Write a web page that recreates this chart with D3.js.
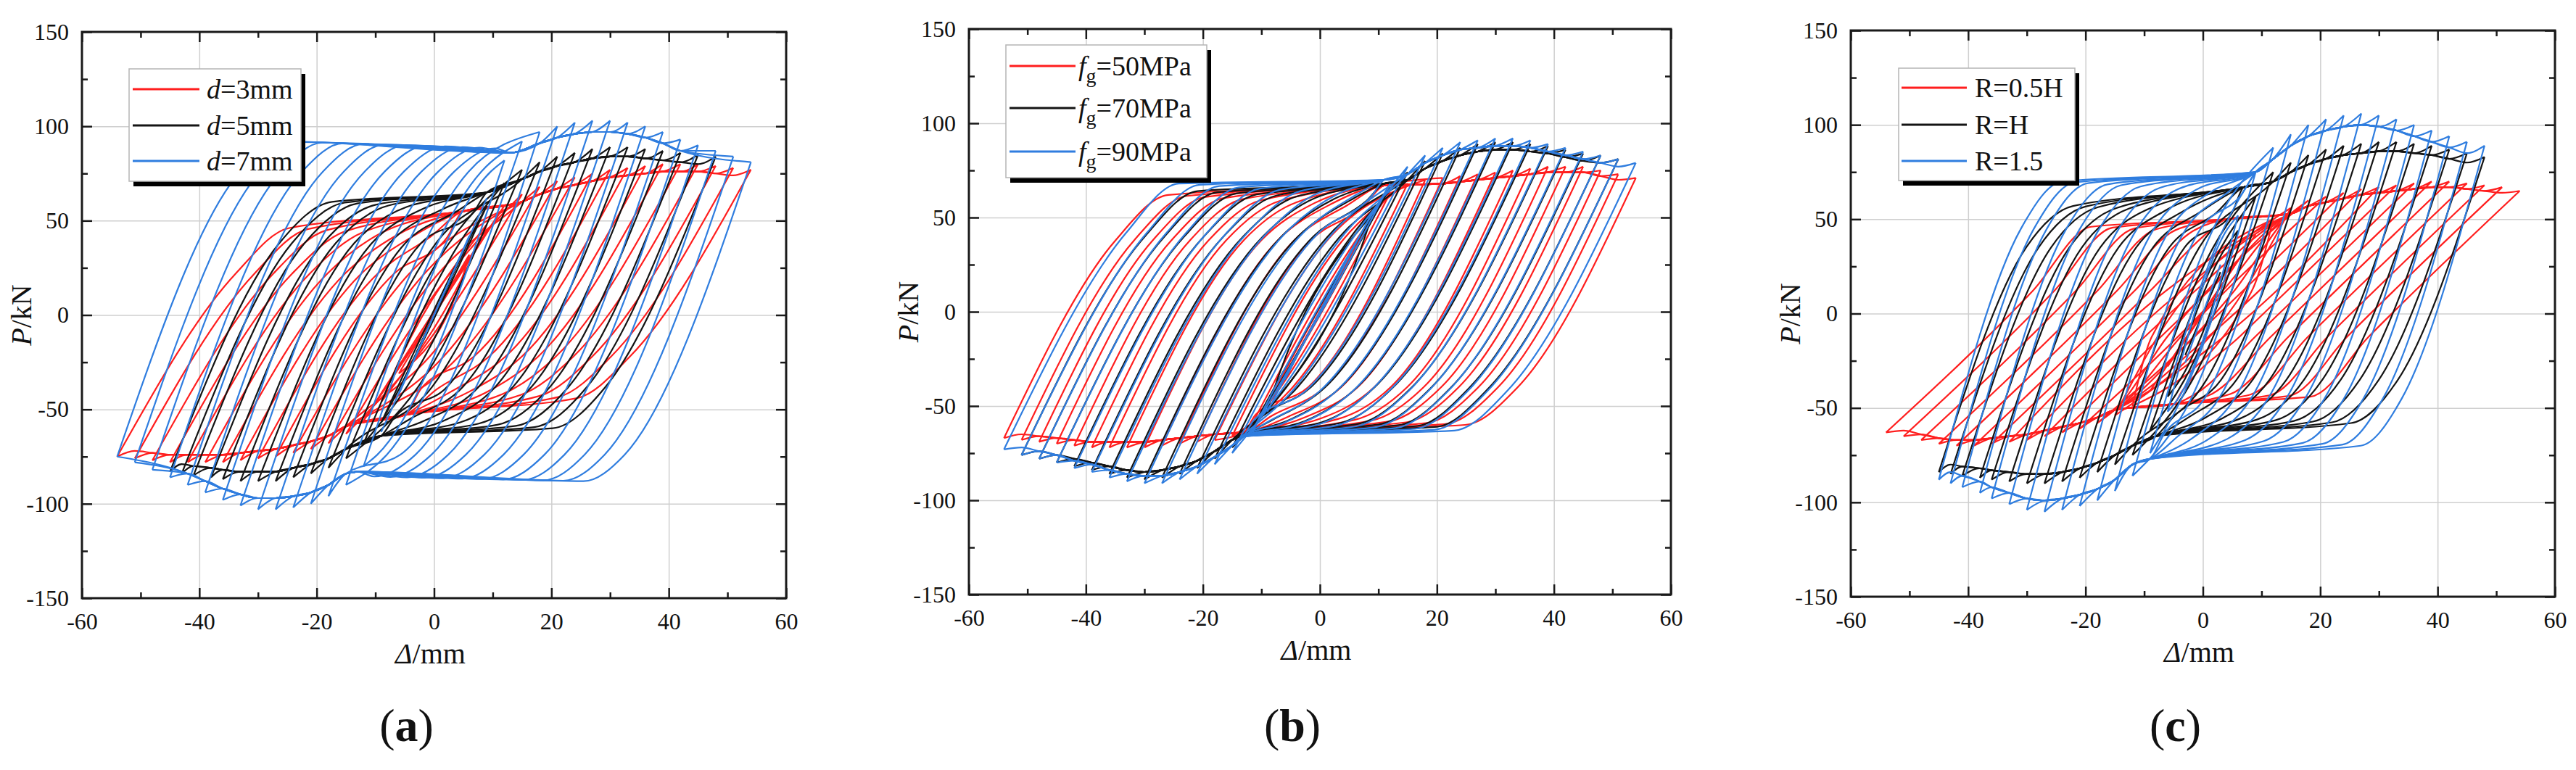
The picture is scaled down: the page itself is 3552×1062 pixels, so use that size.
<!DOCTYPE html>
<html>
<meta charset="utf-8">
<head>
<script src="https://d3js.org/d3.v7.min.js"></script>
<style>
body { margin: 0; background: #fff; }
text { font-family: "Liberation Serif", "Times New Roman", serif; fill: #111; }
</style>
</head>
<body>
<script>
// ---------- data ----------
var xMajor = [-60, -40, -20, 0, 20, 40, 60];
var xMinor = [-50, -30, -10, 10, 30, 50];
var yMajor = [-150, -100, -50, 0, 50, 100, 150];
var yMinor = [-125, -75, -25, 25, 75, 125];
var xGrid = [-40, -20, 0, 20, 40];
var yGrid = [-100, -50, 0, 50, 100];

var amp54 = [3, 6, 9, 12, 15, 18, 21, 24, 27, 30, 33, 36, 39, 42, 45, 48, 51, 54];
var amp54n = [-3, -6, -9, -12, -15, -18, -21, -24, -27, -30, -33, -36, -39, -42, -45, -48, -51, -54];
var amp48 = [3, 6, 9, 12, 15, 18, 21, 24, 27, 30, 33, 36, 39, 42, 45, 48];
var amp45n = [-3, -6, -9, -12, -15, -18, -21, -24, -27, -30, -33, -36, -38, -41, -43, -45];
var amp51 = [3, 6, 9, 12, 15, 18, 21, 24, 27, 30, 33, 36, 39, 42, 45, 48, 51];
var amp51n = [-3, -6, -9, -12, -15, -18, -21, -24, -27, -30, -33, -36, -39, -42, -45, -48, -51];

// (a) d = 3 / 5 / 7 mm : peak loads per cycle (kN)
var aD3Pos = [16, 32, 48, 58, 64, 68, 71, 73, 75, 77, 78, 79, 80, 80, 80, 79, 78, 77];
var aD3Neg = [-16, -31, -46, -56, -63, -68, -71, -73, -75, -76, -77, -78, -78, -78, -78, -77, -76, -75];
var aD5Pos = [20, 40, 58, 70, 77, 81, 84, 86, 88, 89, 89, 88, 87, 86, 85, 84];
var aD5Neg = [-20, -40, -57, -68, -76, -81, -84, -86, -88, -88, -88, -87, -86, -85, -84, -83];
var aD7Pos = [21, 42, 62, 82, 92, 97, 100, 102, 103, 103, 102, 100, 97, 93, 90, 87, 84, 81];
var aD7Neg = [-21, -42, -62, -80, -90, -96, -100, -102, -103, -103, -101, -98, -94, -90, -86, -82, -78, -75];

// (b) fg = 50 / 70 / 90 MPa
var bF50Pos = [17, 34, 50, 63, 68, 70, 71, 72, 73, 74, 75, 76, 77, 77, 77, 75, 73, 71];
var bF50Neg = [-17, -34, -50, -62, -66, -68, -69, -70, -71, -72, -72, -72, -72, -71, -70, -69, -68, -67];
var bF70Pos = [18, 36, 52, 66, 74, 80, 84, 87, 89, 90, 90, 89, 88, 86, 84, 83, 81];
var bF70Neg = [-18, -36, -52, -64, -72, -78, -83, -86, -88, -89, -88, -86, -84, -82, -80, -78, -76];
var bF90Pos = [18, 36, 53, 68, 77, 83, 87, 90, 91, 92, 92, 91, 89, 87, 85, 83, 81, 79];
var bF90Neg = [-18, -36, -53, -66, -75, -81, -86, -89, -91, -91, -90, -88, -85, -83, -80, -78, -76, -73];

// (c) R = 0.5H / H / 1.5
var cR05Pos = [14, 28, 42, 50, 56, 60, 62, 64, 66, 67, 68, 69, 70, 70, 69, 68, 67, 65];
var cR05Neg = [-14, -28, -41, -49, -54, -58, -61, -63, -65, -67, -68, -69, -70, -70, -69, -67, -65, -63];
var cR1Pos = [22, 44, 62, 75, 80, 84, 87, 89, 90, 91, 91, 90, 89, 87, 85, 83];
var cR1Neg = [-22, -44, -62, -75, -80, -84, -87, -89, -90, -90, -89, -88, -87, -86, -85, -84];
var cR15Pos = [26, 52, 75, 88, 95, 100, 103, 105, 106, 105, 103, 100, 97, 94, 91, 89];
var cR15Neg = [-26, -52, -74, -86, -94, -99, -102, -104, -105, -104, -101, -98, -95, -92, -90, -88];

// branch shape per series:
// [stiffness, knee width, knee up, plateau up (small, large), pinch up x, y,
//  knee down, plateau down (small, large), pinch down x, y, saw drop]
var aD3Shape = [4.8, 9, 22, 36, 46, 5, 55, -22, -34, -44, -5, -53, 4];
var aD5Shape = [6.5, 9, 38, 50, 60, 9, 65, -38, -50, -60, -9, -64, 5];
var aD7Shape = [7.2, 7, 76, 86, 92, 13, 86, -74, -84, -88, -13, -83, 6];
var bF50Shape = [5.5, 9, 38, 52, 62, 11, 67, -40, -52, -60, -13, -64, 3];
var bF70Shape = [5.5, 9, 40, 54, 64, 11, 68, -40, -54, -61, -13, -65, 4];
var bF90Shape = [5.5, 9, 42, 56, 68, 11, 70, -42, -55, -63, -13, -66, 4];
var cR05Shape = [3.0, 10, 12, 38, 46, 4, 50, -12, -38, -44, -5, -48, 3];
var cR1Shape = [8, 8, 35, 50, 57, 7, 67, -35, -52, -58, -8, -65, 5];
var cR15Shape = [9.5, 7, 45, 60, 70, 9, 75, -45, -62, -70, -9, -77, 6];

var legendA = ["=3mm", "=5mm", "=7mm"];
var legendB = ["=50MPa", "=70MPa", "=90MPa"];
var legendC = ["R=0.5H", "R=H", "R=1.5"];

var RED = "#ff1e1e", BLACK = "#141414", BLUE = "#2f7ddf";

var panels = [
  { tag: "a", box: [113, 1084, 44, 825], leg: [178, 95, 237, 155], rows: [123, 173, 222], lineX: [183, 275], textX: 285,
    legend: legendA, kind: "d",
    series: [
      { color: RED, dp: amp54, fp: aD3Pos, dn: amp54n, fn: aD3Neg, m: aD3Shape },
      { color: BLACK, dp: amp48, fp: aD5Pos, dn: amp45n, fn: aD5Neg, m: aD5Shape },
      { color: BLUE, dp: amp54, fp: aD7Pos, dn: amp54n, fn: aD7Neg, m: aD7Shape }
    ] },
  { tag: "b", box: [1336, 2304, 40, 820], leg: [1387, 62, 277, 183], rows: [91, 149, 209], lineX: [1392, 1483], textX: 1487,
    legend: legendB, kind: "f",
    series: [
      { color: RED, dp: amp54, fp: bF50Pos, dn: amp54n, fn: bF50Neg, m: bF50Shape },
      { color: BLACK, dp: amp51, fp: bF70Pos, dn: amp51n, fn: bF70Neg, m: bF70Shape },
      { color: BLUE, dp: amp54, fp: bF90Pos, dn: amp54n, fn: bF90Neg, m: bF90Shape }
    ] },
  { tag: "c", box: [2552, 3523, 42, 823], leg: [2618, 94, 243, 155], rows: [121, 172, 222], lineX: [2622, 2712], textX: 2723,
    legend: legendC, kind: "R",
    series: [
      { color: RED, dp: amp54, fp: cR05Pos, dn: amp54n, fn: cR05Neg, m: cR05Shape },
      { color: BLACK, dp: amp48, fp: cR1Pos, dn: amp45n, fn: cR1Neg, m: cR1Shape },
      { color: BLUE, dp: amp48, fp: cR15Pos, dn: amp45n, fn: cR15Neg, m: cR15Shape }
    ] }
];

var svg = d3.select("body").append("svg")
    .attr("width", 3552)
    .attr("height", 1062);

// plain hyphen for negatives, like the figure
var fmt = function(d) { return String(d); };

// one half cycle, from (x0,y0) to (x1,y1); dir = +1 loading to the right, -1 to the left
function branch(x0, y0, x1, y1, k, rK, knee, plat, qx, qy, envX, envY, drop, dir) {
  var gap = 0.8;
  var cand = [];
  var xL = x0 + (knee - y0) / k;
  var xK = xL + dir * rK;
  cand.push([xL, knee]);
  if (dir * (qx - xK) > gap) {
    cand.push([xK, plat]);
    cand.push([qx, qy]);
  }
  envX.forEach(function(ex, j) {
    var ey = envY[j] - dir * drop;
    if (dir * (ey - qy) > 0) cand.push([ex, ey]);
  });
  var pts = [[x0, y0]];
  cand.forEach(function(c) {
    var last = pts[pts.length - 1];
    if (dir * (c[0] - last[0]) > gap && dir * (x1 - c[0]) > gap) pts.push(c);
  });
  pts.push([x1, y1]);
  if (dir < 0) pts.reverse();
  return pts;
}

panels.forEach(function(p) {
  var b = p.box;
  var x = d3.scaleLinear().domain([-60, 60]).range([b[0], b[1]]);
  var y = d3.scaleLinear().domain([-150, 150]).range([b[3], b[2]]);
  var w = b[1] - b[0], h = b[3] - b[2];
  var g = svg.append("g");

  // grid
  g.append("g").attr("transform", "translate(0," + b[3] + ")")
    .call(d3.axisBottom(x).tickValues(xGrid).tickSize(-h).tickFormat(""))
    .call(function(s) { s.select(".domain").remove(); s.selectAll("line").attr("stroke", "#cfcfcf").attr("stroke-width", 1.5); });
  g.append("g").attr("transform", "translate(" + b[0] + ",0)")
    .call(d3.axisLeft(y).tickValues(yGrid).tickSize(-w).tickFormat(""))
    .call(function(s) { s.select(".domain").remove(); s.selectAll("line").attr("stroke", "#cfcfcf").attr("stroke-width", 1.5); });

  // hysteresis loops
  var line = d3.line()
    .x(function(d) { return x(d[0]); })
    .y(function(d) { return y(d[1]); })
    .curve(d3.curveMonotoneX);

  p.series.forEach(function(s) {
    var m = s.m;
    var maxN = d3.max(s.dn, function(v) { return -v; });
    var maxP = d3.max(s.dp);
    var loops = s.dp.map(function(dp, i) {
      var up = branch(s.dn[i], s.fn[i], dp, s.fp[i], m[0], m[1], m[2],
        m[3] + (m[4] - m[3]) * (-s.dn[i] / maxN), m[5], m[6], s.dp, s.fp, m[12], 1);
      var down = branch(dp, s.fp[i], s.dn[i], s.fn[i], m[0], m[1], m[7],
        m[8] + (m[9] - m[8]) * (dp / maxP), m[10], m[11], s.dn, s.fn, m[12], -1);
      return line(down) + line(up);
    });
    g.append("g").selectAll("path")
      .data(loops)
      .enter().append("path")
      .attr("d", function(d) { return d; })
      .attr("fill", "none")
      .attr("stroke", s.color)
      .attr("stroke-width", 2.2)
      .attr("stroke-linejoin", "round");
  });

  // frame
  g.append("rect")
    .attr("x", b[0]).attr("y", b[2]).attr("width", w).attr("height", h)
    .attr("fill", "none").attr("stroke", "#1a1a1a").attr("stroke-width", 3);

  // ticks (inward) and labels
  function styleAxis(s) {
    s.attr("font-family", null).attr("font-size", null);
    s.select(".domain").remove();
    s.selectAll("line").attr("stroke", "#1a1a1a").attr("stroke-width", 2.5);
    s.selectAll("text").style("font-family", '"Liberation Serif", serif').style("font-size", "32px").attr("fill", "#111");
  }
  g.append("g").attr("transform", "translate(0," + b[3] + ")")
    .call(d3.axisBottom(x).tickValues(xMajor).tickSize(-14).tickPadding(20).tickFormat(fmt)).call(styleAxis);
  g.append("g").attr("transform", "translate(0," + b[3] + ")")
    .call(d3.axisBottom(x).tickValues(xMinor).tickSize(-8).tickFormat("")).call(styleAxis);
  g.append("g").attr("transform", "translate(0," + b[2] + ")")
    .call(d3.axisTop(x).tickValues(xMajor).tickSize(-14).tickFormat("")).call(styleAxis);
  g.append("g").attr("transform", "translate(0," + b[2] + ")")
    .call(d3.axisTop(x).tickValues(xMinor).tickSize(-8).tickFormat("")).call(styleAxis);
  g.append("g").attr("transform", "translate(" + b[0] + ",0)")
    .call(d3.axisLeft(y).tickValues(yMajor).tickSize(-14).tickPadding(18).tickFormat(fmt)).call(styleAxis);
  g.append("g").attr("transform", "translate(" + b[0] + ",0)")
    .call(d3.axisLeft(y).tickValues(yMinor).tickSize(-8).tickFormat("")).call(styleAxis);
  g.append("g").attr("transform", "translate(" + b[1] + ",0)")
    .call(d3.axisRight(y).tickValues(yMajor).tickSize(-14).tickFormat("")).call(styleAxis);
  g.append("g").attr("transform", "translate(" + b[1] + ",0)")
    .call(d3.axisRight(y).tickValues(yMinor).tickSize(-8).tickFormat("")).call(styleAxis);

  // axis titles
  var cx = (b[0] + b[1]) / 2, cy = (b[2] + b[3]) / 2;
  var xt = g.append("text").attr("x", cx - 5).attr("y", b[3] + 90)
    .attr("text-anchor", "middle").style("font-size", "40px");
  xt.append("tspan").style("font-style", "italic").text("\u0394");
  xt.append("tspan").text("/mm");
  var yt = g.append("text")
    .attr("transform", "translate(" + (b[0] - 70) + "," + cy + ") rotate(-90)")
    .attr("text-anchor", "middle").style("font-size", "40px");
  yt.append("tspan").style("font-style", "italic").text("P");
  yt.append("tspan").text("/kN");

  // panel tag
  var tg = g.append("text").attr("x", cx - 38).attr("y", 1022)
    .attr("text-anchor", "middle").style("font-size", "64px");
  tg.append("tspan").text("(");
  tg.append("tspan").style("font-weight", "bold").text(p.tag);
  tg.append("tspan").text(")");

  // legend
  var L = p.leg;
  g.append("rect").attr("x", L[0] + 6).attr("y", L[1] + 7).attr("width", L[2]).attr("height", L[3]).attr("fill", "#000");
  g.append("rect").attr("x", L[0]).attr("y", L[1]).attr("width", L[2]).attr("height", L[3])
    .attr("fill", "#fff").attr("stroke", "#b5b5b5").attr("stroke-width", 1.5);
  p.series.forEach(function(s, i) {
    var ry = p.rows[i];
    g.append("line").attr("x1", p.lineX[0]).attr("x2", p.lineX[1]).attr("y1", ry).attr("y2", ry)
      .attr("stroke", s.color).attr("stroke-width", 3);
    var t = g.append("text").attr("x", p.textX).attr("y", ry + 13).style("font-size", "38px");
    if (p.kind === "d") {
      t.append("tspan").style("font-style", "italic").text("d");
      t.append("tspan").text(p.legend[i]);
    } else if (p.kind === "f") {
      t.append("tspan").style("font-style", "italic").text("f");
      t.append("tspan").attr("dy", 10).style("font-size", "28px").text("g");
      t.append("tspan").attr("dy", -10).text(p.legend[i]);
    } else {
      t.text(p.legend[i]);
    }
  });
});
</script>
</body>
</html>
